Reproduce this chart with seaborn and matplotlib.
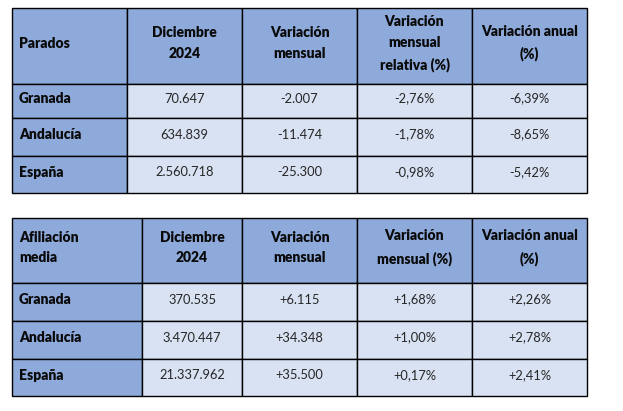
import matplotlib
matplotlib.use("Agg")
import matplotlib.pyplot as plt
import seaborn as sns
from matplotlib.patches import Rectangle

# ---------------- data ----------------
regions = ["Granada", "Andalucía", "España"]

parados_header = ["Parados", "Diciembre\n2024", "Variación\nmensual",
                  "Variación\nmensual\nrelativa (%)", "Variación anual\n(%)"]
parados_dic = ["70.647", "634.839", "2.560.718"]
parados_var = ["-2.007", "-11.474", "-25.300"]
parados_rel = ["-2,76%", "-1,78%", "-0,98%"]
parados_anual = ["-6,39%", "-8,65%", "-5,42%"]

afil_header = ["Afiliación\nmedia", "Diciembre\n2024", "Variación\nmensual",
               "Variación\nmensual (%)", "Variación anual\n(%)"]
afil_dic = ["370.535", "3.470.447", "21.337.962"]
afil_var = ["+6.115", "+34.348", "+35.500"]
afil_rel = ["+1,68%", "+1,00%", "+0,17%"]
afil_anual = ["+2,26%", "+2,78%", "+2,41%"]

# ---------------- style ----------------
sns.set_theme(style="white")
plt.rcParams['font.family'] = ['Lato', 'DejaVu Sans']

HEAD = "#8EAADB"
CELL = "#D9E2F3"
TXT_B = "#0a0a0a"
TXT = "#262626"
FS_H = 10.0
FS_D = 9.3

fig = plt.figure(figsize=(6.23, 4.11), dpi=100)
ax = fig.add_axes([0, 0, 1, 1])
ax.set_xlim(0, 623)
ax.set_ylim(411, 0)
ax.axis("off")


def draw_table(xe, ye, header, cols):
    nrow = len(ye) - 1
    ncol = len(xe) - 1
    for r in range(nrow):
        for c in range(ncol):
            face = HEAD if (r == 0 or c == 0) else CELL
            ax.add_patch(Rectangle((xe[c], ye[r]), xe[c + 1] - xe[c], ye[r + 1] - ye[r],
                                   facecolor=face, edgecolor="black", lw=1.0))
    # header
    yc = (ye[0] + ye[1]) / 2 - 3
    for c, h in enumerate(header):
        if c == 0:
            ax.text(xe[0] + 7, yc, h, ha="left", va="center", fontsize=FS_H,
                    fontweight="heavy", color=TXT_B, linespacing=1.7, multialignment="left")
        else:
            ax.text((xe[c] + xe[c + 1]) / 2, yc, h, ha="center", va="center", fontsize=FS_H,
                    fontweight="heavy", color=TXT_B, linespacing=1.7, multialignment="center")
    # body
    for r, reg in enumerate(regions):
        yc = (ye[r + 1] + ye[r + 2]) / 2 - 2.5
        ax.text(xe[0] + 7, yc, reg, ha="left", va="center", fontsize=FS_H,
                fontweight="heavy", color=TXT_B)
        for c, col in enumerate(cols):
            ax.text((xe[c + 1] + xe[c + 2]) / 2, yc, col[r], ha="center", va="center",
                    fontsize=FS_D, color=TXT)


draw_table([12, 127, 242, 357, 472, 587], [8.5, 84, 118, 156, 193],
           parados_header, [parados_dic, parados_var, parados_rel, parados_anual])
draw_table([12, 142, 242, 357, 472, 587], [218, 283, 321, 359, 396],
           afil_header, [afil_dic, afil_var, afil_rel, afil_anual])

fig.savefig("out.png", dpi=100, facecolor="white")
